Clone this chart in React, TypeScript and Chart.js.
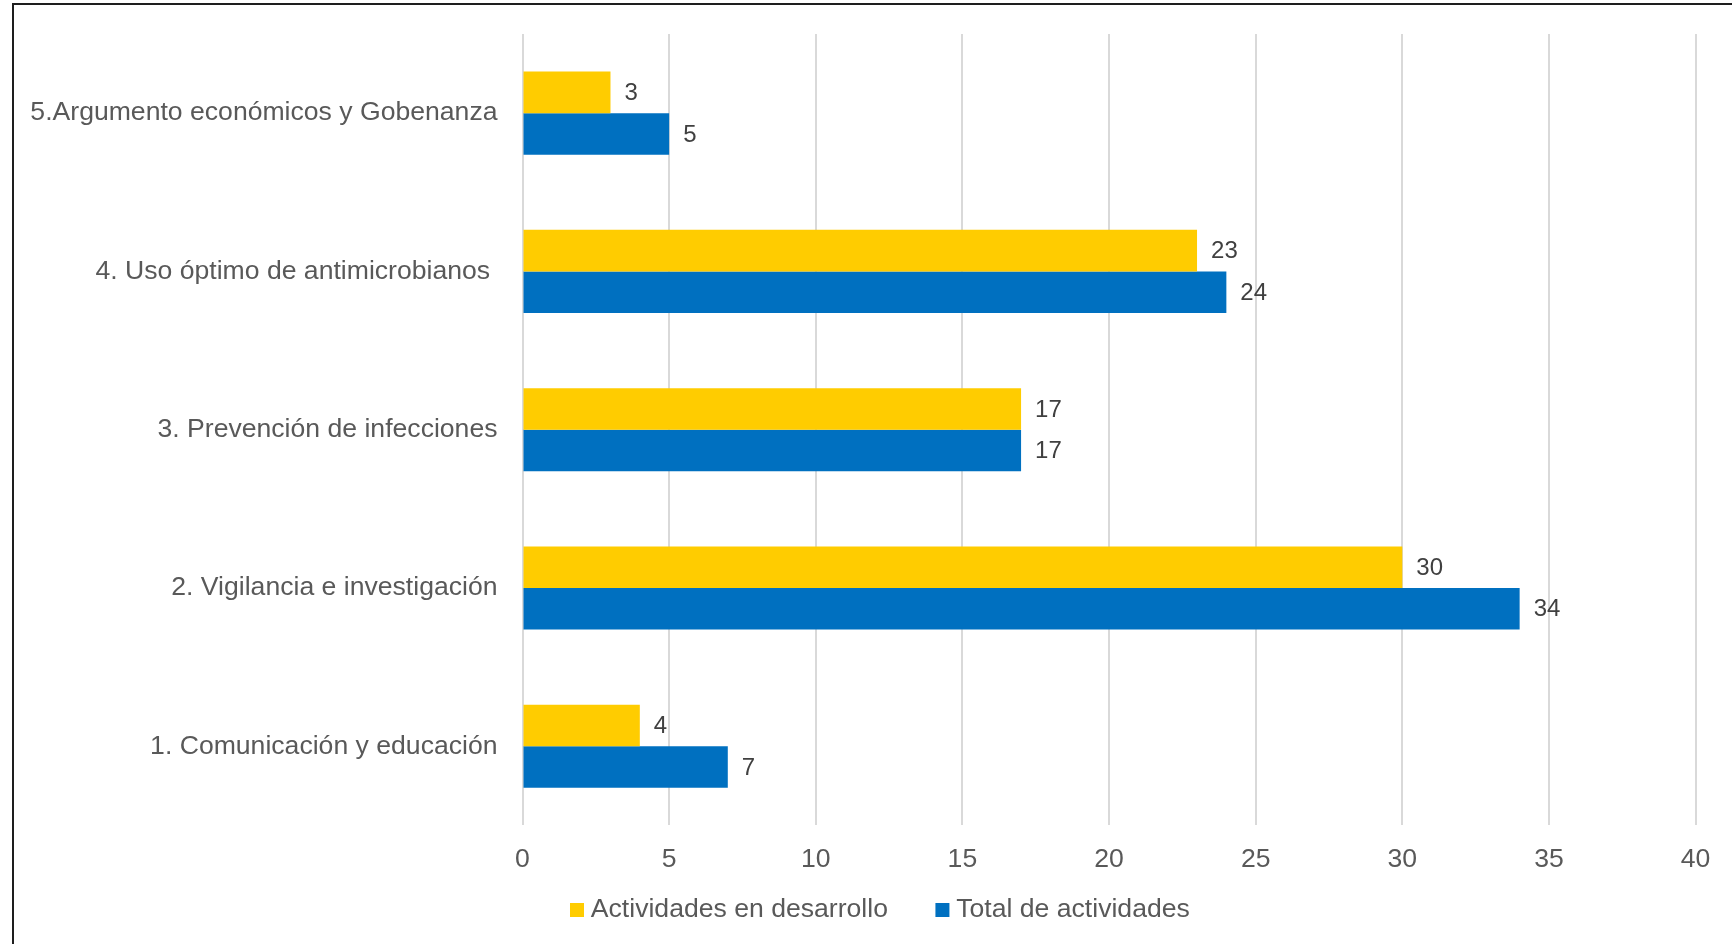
import React, { useEffect, useRef } from "react";
import { Chart, registerables } from "chart.js";

Chart.register(...registerables);

const categories = [
  "5.Argumento económicos y Gobenanza",
  "4. Uso óptimo de antimicrobianos ",
  "3. Prevención de infecciones",
  "2. Vigilancia e investigación",
  "1. Comunicación y educación",
];
const enDesarrollo = [3, 23, 17, 30, 4];
const totalActividades = [5, 24, 17, 34, 7];
const seriesNames = ["Actividades en desarrollo", "Total de actividades"];
const xTicks = [0, 5, 10, 15, 20, 25, 30, 35, 40];

const FONT = "'Liberation Sans', Arial, sans-serif";
const FONT_SIZE = 26.6;
const LEGEND_PAD = 54;
const LEGEND_TEXT_Y = 910;

const dataLabelPlugin = {
  id: "dataLabels",
  afterDatasetsDraw(chart: any) {
    const ctx = chart.ctx;
    ctx.save();
    ctx.font = `24px ${FONT}`;
    ctx.fillStyle = "#404040";
    ctx.textAlign = "left";
    ctx.textBaseline = "middle";
    chart.data.datasets.forEach((ds: any, di: number) => {
      const meta = chart.getDatasetMeta(di);
      meta.data.forEach((bar: any, i: number) => {
        ctx.fillText(String(ds.data[i]), bar.x + 14, bar.y + 1);
      });
    });
    ctx.restore();
  },
};

const legendPlacePlugin = {
  id: "legendPlace",
  afterLayout(chart: any) {
    const lg = chart.legend;
    if (!lg) return;
    const h = lg.bottom - lg.top;
    const top = LEGEND_TEXT_Y - LEGEND_PAD - FONT_SIZE / 2;
    lg.top = top;
    lg.bottom = top + h;
  },
};

export default function App() {
  const ref = useRef<HTMLCanvasElement>(null);
  useEffect(() => {
    if (!ref.current) return;
    const chart = new Chart(ref.current, {
      type: "bar",
      data: {
        labels: categories,
        datasets: [
          {
            label: seriesNames[0],
            data: enDesarrollo,
            backgroundColor: "#FFCC00",
            categoryPercentage: 0.525,
            barPercentage: 1.0,
          },
          {
            label: seriesNames[1],
            data: totalActividades,
            backgroundColor: "#0070C0",
            categoryPercentage: 0.525,
            barPercentage: 1.0,
          },
        ],
      },
      options: {
        indexAxis: "y",
        responsive: false,
        animation: false,
        devicePixelRatio: 1,
        layout: { padding: { left: 0, right: 36.4, top: 34, bottom: 0 } },
        scales: {
          x: {
            min: 0,
            max: 40,
            afterBuildTicks: (scale: any) => {
              scale.ticks = xTicks.map((v) => ({ value: v }));
            },
            afterFit: (scale: any) => {
              scale.height = 50;
              scale.paddingLeft = 0;
              scale.paddingRight = 0;
            },
            grid: { color: "#D9D9D9", lineWidth: 2, drawTicks: false },
            border: { display: false },
            ticks: {
              padding: 18,
              color: "#595959",
              font: { family: FONT, size: FONT_SIZE },
            },
          },
          y: {
            afterFit: (scale: any) => {
              scale.width = 522.5;
              scale.paddingTop = 0;
              scale.paddingBottom = 0;
            },
            grid: { display: false, drawTicks: false },
            border: { display: false },
            ticks: {
              padding: 25,
              color: "#595959",
              font: { family: FONT, size: FONT_SIZE },
            },
          },
        },
        plugins: {
          legend: {
            position: "bottom",
            fullSize: false,
            align: "start",
            labels: {
              usePointStyle: true,
              pointStyle: "rect",
              boxWidth: 1,
              boxHeight: 14,
              padding: LEGEND_PAD,
              color: "#595959",
              font: { family: FONT, size: FONT_SIZE },
            },
          },
          tooltip: { enabled: false },
        },
      },
      plugins: [dataLabelPlugin, legendPlacePlugin],
    });
    return () => chart.destroy();
  }, []);

  return (
    <div
      style={{
        position: "fixed",
        left: 0,
        top: 0,
        width: 1732,
        height: 944,
        overflow: "hidden",
        background: "#fff",
      }}
    >
      <canvas
        ref={ref}
        width={1732}
        height={966}
        style={{ position: "absolute", left: 0, top: 0, width: 1732, height: 966 }}
      />
      <div
        style={{
          position: "absolute",
          left: 12,
          top: 3,
          width: 1800,
          height: 1000,
          border: "2px solid #1e1e1e",
          pointerEvents: "none",
        }}
      />
    </div>
  );
}
